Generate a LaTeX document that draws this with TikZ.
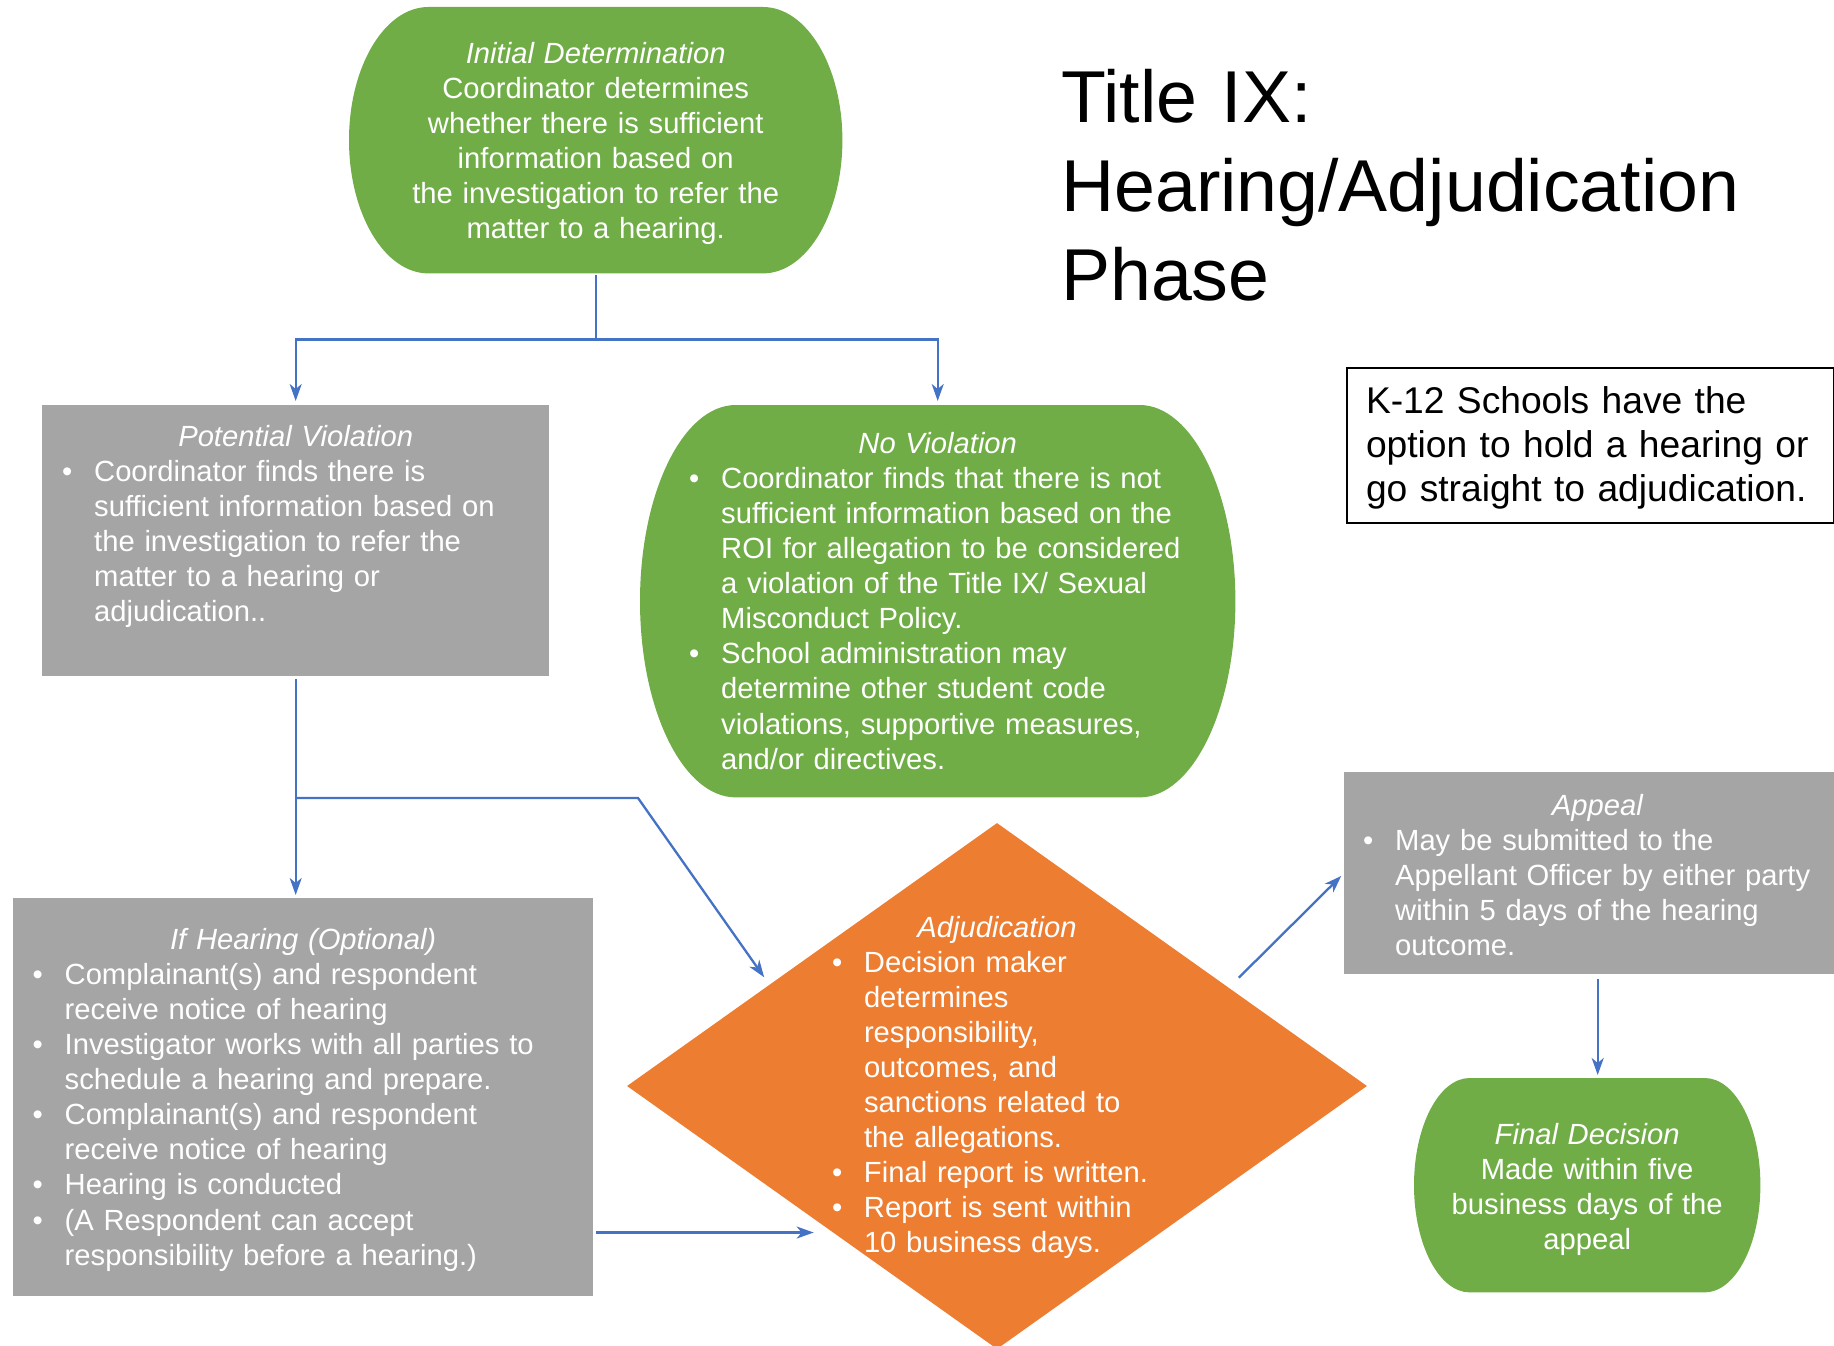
\documentclass[tikz,border=0pt]{standalone}
\usepackage{fontspec}
\setmainfont{Liberation Sans}
\usepackage{xcolor}
\usepackage{tikz}
\usetikzlibrary{arrows.meta,positioning,shapes.geometric,backgrounds,calc}
\definecolor{tixgreen}{RGB}{112,173,71}
\definecolor{tixgray}{RGB}{165,165,165}
\definecolor{tixorange}{RGB}{237,125,49}
\definecolor{tixblue}{RGB}{68,114,196}
\newcommand{\bodyfont}{\fontsize{29.2pt}{35.1pt}\selectfont}
\newcommand{\bitem}{\makebox[32pt][l]{\textbullet}}
\newcommand{\bcont}{\hspace*{32pt}}
\newcommand{\boxhead}[1]{\makebox[\linewidth]{\textit{#1}}}

\begin{document}
\begin{tikzpicture}[
    x=1pt, y=1pt,
    every node/.style={font=\bodyfont, text=white},
    grayrect/.style={rectangle, fill=tixgray, inner ysep=0pt, align=left},
    termbox/.style={rectangle, inner ysep=0pt},
    decision/.style={diamond, fill=tixorange, aspect=1.4, inner sep=-60pt, align=left},
    notebox/.style={rectangle, draw=black, line width=2pt, text=black, inner ysep=0pt, align=left, font=\fontsize{37.2pt}{44.4pt}\selectfont},
    conn/.style={draw=tixblue, line width=2.3pt},
    arr/.style={conn, -{Stealth[length=17pt, width=12pt, inset=5pt]}, shorten >=3pt, shorten <=3pt}
]
\useasboundingbox (0,0) rectangle (1834,-1346);

\node[anchor=base west, inner sep=0pt, text width=760pt, align=left, text=black,
      font=\fontsize{73.5pt}{89pt}\selectfont] (title) at (1061,-122)
  {Title IX:\\Hearing/Adjudication\\Phase};

\node[notebox, anchor=north west, inner xsep=19pt, text width=449pt, text height=45pt, text depth=110pt] (note) at (1346,-367)
  {K-12 Schools have the\\option to hold a hearing or\\go straight to adjudication.};

\node[termbox, align=center, anchor=north west, inner xsep=10pt, text width=473pt, text height=56pt, text depth=210pt] (init) at (349,-7)
  {\textit{Initial Determination}\\Coordinator determines\\whether there is sufficient\\information based on\\the investigation to refer the\\matter to a hearing.};

\node[grayrect, anchor=north west, inner xsep=20pt, text width=467pt, text height=41pt, text depth=230pt] (pv) at (42,-405)
  {\boxhead{Potential Violation}\\
   \bitem Coordinator finds there is\\
   \bcont sufficient information based on\\
   \bcont the investigation to refer the\\
   \bcont matter to a hearing or\\
   \bcont adjudication..};

\node[termbox, align=left, anchor=north west, inner xsep=49pt, text width=497pt, text height=48pt, text depth=344pt] (noviol) at (640,-405)
  {\boxhead{No Violation}\\
   \bitem Coordinator finds that there is not\\
   \bcont sufficient information based on the\\
   \bcont ROI for allegation to be considered\\
   \bcont a violation of the Title IX/ Sexual\\
   \bcont Misconduct Policy.\\
   \bitem School administration may\\
   \bcont determine other student code\\
   \bcont violations, supportive measures,\\
   \bcont and/or directives.};

\node[grayrect, anchor=north west, inner xsep=19.5pt, text width=541pt, text height=51pt, text depth=347pt] (ih) at (13,-898)
  {\boxhead{If Hearing (Optional)}\\
   \bitem Complainant(s) and respondent\\
   \bcont receive notice of hearing\\
   \bitem Investigator works with all parties to\\
   \bcont schedule a hearing and prepare.\\
   \bitem Complainant(s) and respondent\\
   \bcont receive notice of hearing\\
   \bitem Hearing is conducted\\
   \bitem (A Respondent can accept\\
   \bcont responsibility before a hearing.)};

\node[decision, minimum width=740pt, minimum height=526pt, text width=330pt, text height=0pt, text depth=298pt] (adj) at (997,-1086)
  {\boxhead{Adjudication}\\
   \bitem Decision maker\\
   \bcont determines\\
   \bcont responsibility,\\
   \bcont outcomes, and\\
   \bcont sanctions related to\\
   \bcont the allegations.\\
   \bitem Final report is written.\\
   \bitem Report is sent within\\
   \bcont 10 business days.};

\node[grayrect, anchor=north west, inner xsep=19pt, text width=469pt, text height=43pt, text depth=159pt] (appeal) at (1344,-772)
  {\boxhead{Appeal}\\
   \bitem May be submitted to the\\
   \bcont Appellant Officer by either party\\
   \bcont within 5 days of the hearing\\
   \bcont outcome.};

\node[termbox, align=center, anchor=north west, inner xsep=10pt, text width=326pt, text height=66pt, text depth=148pt] (final) at (1414,-1078)
  {\textit{Final Decision}\\Made within five\\business days of the\\appeal};

% green terminator shapes behind their text
\begin{scope}[on background layer]
\foreach \nd in {init,noviol,final}
  \fill[tixgreen] let \p1=(\nd.south west), \p2=(\nd.north east),
      \n1={0.161*(\x2-\x1)}, \n2={0.5*(\y2-\y1)} in
    (\x1+\n1,\y2) -- (\x2-\n1,\y2)
    arc[start angle=90, end angle=-90, x radius=\n1, y radius=\n2]
    -- (\x1+\n1,\y1)
    arc[start angle=270, end angle=90, x radius=\n1, y radius=\n2] -- cycle;
\end{scope}

\coordinate[below=66pt of init.south] (fork);
\coordinate (bend) at (638,-798);

\draw[conn, shorten <=2pt] (init.south) -- (fork);
\draw[arr, shorten <=0pt, shorten >=4pt] (fork) -| (pv.north);
\draw[arr, shorten <=0pt, shorten >=4pt] (fork) -| (noviol.north);
\draw[arr] (pv.south) -- (pv.south |- ih.north);
\draw[arr, shorten <=0pt, shorten >=9pt] (pv.south |- bend) -- (bend) -- (adj.156);
\draw[arr, shorten >=20pt] (ih.-25.3) -- (ih.-25.3 -| adj.222);
\draw[arr, shorten <=14pt, shorten >=4pt] (adj.23) -- (appeal.west);
\draw[arr, shorten <=5pt] (appeal.south) -- (appeal.south |- final.north);

\end{tikzpicture}
\end{document}
